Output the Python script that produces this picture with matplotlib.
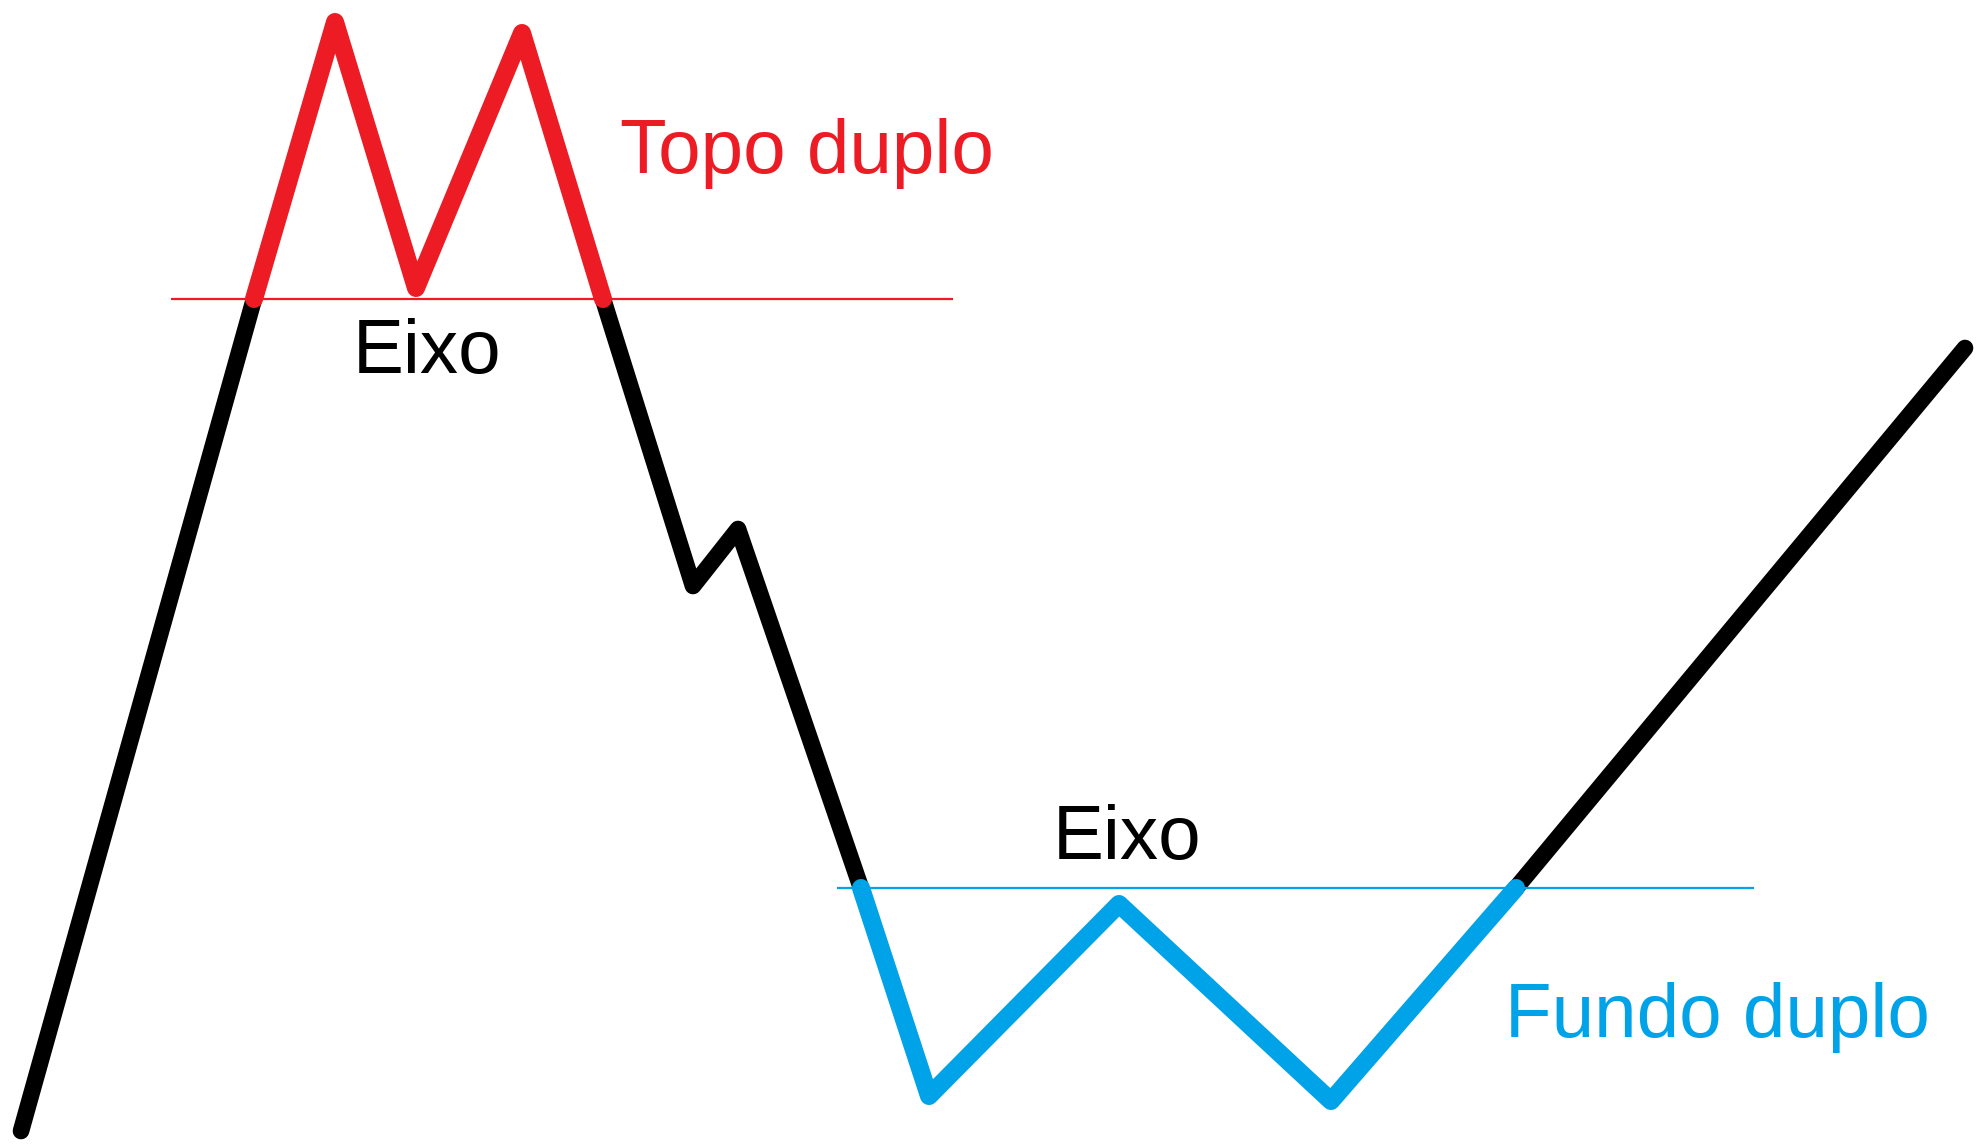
import matplotlib.pyplot as plt

# pixel coordinates of the sketch (y grows downward)
W, H = 1982, 1145

red = '#ED1C24'
blue = '#00A2E8'

# price path, split by colour
subida_x = [21, 254]
subida_y = [1131, 299]

topo_x = [254, 335, 416, 522, 603]
topo_y = [299, 22, 288, 33, 299]

queda_x = [603, 693, 738, 861]
queda_y = [299, 586, 529, 888]

fundo_x = [861, 929, 1119, 1331, 1516]
fundo_y = [888, 1096, 904, 1101, 888]

alta_x = [1516, 1965]
alta_y = [888, 348]

# neckline ("eixo") levels
eixo_topo_x = [171, 953]
eixo_topo_y = 299
eixo_fundo_x = [837, 1754]
eixo_fundo_y = 888

fig = plt.figure(figsize=(W / 100, H / 100), dpi=100)
ax = fig.add_axes([0, 0, 1, 1])
ax.set_xlim(0, W)
ax.set_ylim(H, 0)
ax.axis('off')

kw = dict(solid_capstyle='round', solid_joinstyle='round')
ax.plot(subida_x, subida_y, color='black', lw=12, **kw)
ax.plot(queda_x, queda_y, color='black', lw=12, **kw)
ax.plot(alta_x, alta_y, color='black', lw=12, **kw)
ax.plot(topo_x, topo_y, color=red, lw=13, **kw)
ax.plot(fundo_x, fundo_y, color=blue, lw=13, **kw)

ax.hlines(eixo_topo_y, *eixo_topo_x, color=red, lw=1.6)
ax.hlines(eixo_fundo_y, *eixo_fundo_x, color=blue, lw=1.6)

font = dict(family='Liberation Sans', fontsize=55, va='baseline', ha='left')
ax.text(620, 173, 'Topo duplo', color=red, **font)
ax.text(353, 373, 'Eixo', color='black', **font)
ax.text(1053, 859, 'Eixo', color='black', **font)
ax.text(1505, 1037, 'Fundo duplo', color=blue, **font)

fig.savefig('out.png', dpi=100, facecolor='white')
